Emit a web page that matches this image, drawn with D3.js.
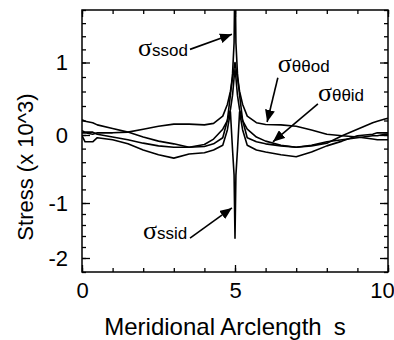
<!DOCTYPE html>
<html>
<head>
<meta charset="utf-8">
<script src="https://cdn.jsdelivr.net/npm/d3@7.9.0/dist/d3.min.js"></script>
<style>
  html, body { margin: 0; padding: 0; background: #fff; }
  svg { display: block; font-family: "Liberation Sans", Arial, sans-serif; }
</style>
</head>
<body>
<div id="chart"></div>
<script>
// arclength samples (denser around the junction at s = 5)
const arcS = [0, 0.1, 0.35, 0.5, 1, 1.5, 2, 2.5, 3, 3.5, 4, 4.3, 4.6, 4.75, 4.85, 4.92, 4.97, 5,
  5.03, 5.08, 5.15, 5.25, 5.4, 5.7, 6, 6.5, 7, 7.5, 8, 8.5, 9, 9.5, 9.65, 9.9, 10];

// stress (x 10^3)
const sigmaThetaId = [0.21, 0.19, 0.17, 0.14, 0.09, 0.04, -0.03, -0.09, -0.13, -0.18, -0.14, -0.06, 0.08, 0.2, 0.35, 0.55, 0.79, 0.9,
  0.79, 0.55, 0.35, 0.2, 0.08, -0.03, -0.09, -0.15, -0.18, -0.16, -0.12, -0.01, 0.08, 0.17, 0.19, 0.22, 0.23];
const sigmaThetaOd = [0.03, 0.03, 0.01, 0.03, 0.03, 0.04, 0.08, 0.12, 0.15, 0.15, 0.14, 0.16, 0.26, 0.42, 0.6, 0.78, 0.92, 1.0,
  0.92, 0.78, 0.6, 0.42, 0.26, 0.17, 0.145, 0.14, 0.12, 0.07, 0.01, -0.01, -0.03, -0.06, -0.07, -0.07, -0.07];
const sigmaSsId = [-0.01, -0.1, -0.1, -0.04, -0.07, -0.13, -0.22, -0.29, -0.34, -0.28, -0.26, -0.22, -0.15, 0.07, 0.32, -0.22, -0.59, -1.64,
  -0.59, -0.22, 0.32, 0.07, -0.15, -0.22, -0.25, -0.29, -0.32, -0.25, -0.16, -0.09, -0.01, 0.01, 0.03, 0.03, 0.03];
const sigmaSsOd = [0.06, 0.04, 0.04, 0.01, -0.03, -0.07, -0.12, -0.16, -0.18, -0.18, -0.17, -0.13, -0.04, 0.2, 0.55, 0.85, 1.3, 2.5,
  1.3, 0.85, 0.55, 0.2, -0.04, -0.1, -0.13, -0.16, -0.18, -0.15, -0.1, -0.07, -0.04, -0.01, -0.01, 0.01, 0.01];

const xMajor = [0, 5, 10];
const yMajor = [-2, -1, 0, 1];

// callouts: subscript, text position, arrow start and tip (data units)
const labelNames = ["ssod", "\u03b8\u03b8od", "\u03b8\u03b8id", "ssid"];
const labelAt = [[1.83, 1.1], [6.4, 0.87], [7.71, 0.47], [1.99, -1.65]];
const arrowFrom = [[3.53, 1.2], [6.4, 0.79], [7.71, 0.43], [3.53, -1.64]];
const arrowTo = [[4.9, 1.43], [6.05, 0.18], [6.24, -0.1], [4.9, -1.09]];

const W = 394, H = 340;
const box = {left: 82, right: 388, top: 10, bottom: 272};

const svg = d3.select("#chart").append("svg")
    .attr("width", W)
    .attr("height", H);

const x = d3.scaleLinear().domain([0, 10]).range([box.left, box.right]);
// the scanned axis is slightly uneven, so follow its tick positions
const y = d3.scaleLinear()
    .domain([-2.2, -2, -1, 0, 1, 1.8])
    .range([box.bottom, 258, 203, 135, 62.5, box.top]);

const yMinor = d3.range(-22, 19, 2).map(d => d / 10);
const xMinor = d3.range(0, 11);

const defs = svg.append("defs");
defs.append("clipPath").attr("id", "plot")
  .append("rect")
    .attr("x", box.left).attr("y", box.top)
    .attr("width", box.right - box.left).attr("height", box.bottom - box.top);

defs.append("marker")
    .attr("id", "head")
    .attr("markerUnits", "userSpaceOnUse")
    .attr("viewBox", "0 0 12 10")
    .attr("refX", 12).attr("refY", 5)
    .attr("markerWidth", 12).attr("markerHeight", 10)
    .attr("orient", "auto")
  .append("path")
    .attr("d", "M0,0 L12,5 L0,10 Z")
    .attr("fill", "#000");

// curves
const line = d3.line()
    .x((d, i) => x(arcS[i]))
    .y(d => y(d));

svg.append("g")
    .attr("clip-path", "url(#plot)")
  .selectAll("path")
  .data([sigmaThetaId, sigmaThetaOd, sigmaSsId, sigmaSsOd])
  .join("path")
    .attr("d", line)
    .attr("fill", "none")
    .attr("stroke", "#000")
    .attr("stroke-width", 1.6)
    .attr("stroke-linejoin", "round");

// frame
svg.append("rect")
    .attr("x", box.left).attr("y", box.top)
    .attr("width", box.right - box.left).attr("height", box.bottom - box.top)
    .attr("fill", "none")
    .attr("stroke", "#000")
    .attr("stroke-width", 1.5);

function styleAxis(g) {
  g.select(".domain").remove();
  g.selectAll(".tick line").attr("stroke", "#000").attr("stroke-width", 1.3);
  g.selectAll(".tick text")
    .attr("font-size", 22)
    .attr("fill", "#000")
    .attr("font-family", "Liberation Sans, Arial, sans-serif");
}

// minor ticks on all sides
svg.append("g").attr("transform", `translate(${box.left},0)`)
  .call(d3.axisLeft(y).tickValues(yMinor).tickSize(-4).tickFormat("")).call(styleAxis);
svg.append("g").attr("transform", `translate(${box.right},0)`)
  .call(d3.axisRight(y).tickValues(yMinor).tickSize(-4).tickFormat("")).call(styleAxis);
svg.append("g").attr("transform", `translate(0,${box.bottom})`)
  .call(d3.axisBottom(x).tickValues(xMinor).tickSize(-4).tickFormat("")).call(styleAxis);
svg.append("g").attr("transform", `translate(0,${box.top})`)
  .call(d3.axisTop(x).tickValues(xMinor).tickSize(-4).tickFormat("")).call(styleAxis);

// major ticks with labels
svg.append("g").attr("transform", `translate(${box.left},0)`)
  .call(d3.axisLeft(y).tickValues(yMajor).tickSize(-8).tickPadding(14).tickFormat(d => String(d)))
  .call(styleAxis);
svg.append("g").attr("transform", `translate(0,${box.bottom})`)
  .call(d3.axisBottom(x).tickValues(xMajor).tickSize(-7).tickPadding(10).tickFormat(d => String(d)))
  .call(styleAxis)
  .selectAll(".tick text")
    .filter(d => d === 10)
    .attr("dx", -6);
svg.append("g").attr("transform", `translate(${box.right},0)`)
  .call(d3.axisRight(y).tickValues(yMajor).tickSize(-8).tickFormat("")).call(styleAxis);
svg.append("g").attr("transform", `translate(0,${box.top})`)
  .call(d3.axisTop(x).tickValues(xMajor).tickSize(-7).tickFormat("")).call(styleAxis);

// axis titles
const xt = svg.append("text")
    .attr("x", 225)
    .attr("y", 335)
    .attr("text-anchor", "middle")
    .attr("font-size", 24);
xt.append("tspan").text("Meridional Arclength");
xt.append("tspan").attr("dx", 12).text("s");

svg.append("text")
    .attr("transform", "translate(33,167) rotate(-90)")
    .attr("text-anchor", "middle")
    .attr("font-size", 22)
    .text("Stress  (x 10^3)");

// callouts
const notes = svg.append("g");
labelNames.forEach((name, i) => {
  notes.append("line")
      .attr("x1", x(arrowFrom[i][0])).attr("y1", y(arrowFrom[i][1]))
      .attr("x2", x(arrowTo[i][0])).attr("y2", y(arrowTo[i][1]))
      .attr("stroke", "#000")
      .attr("stroke-width", 1.6)
      .attr("marker-end", "url(#head)");
  const t = notes.append("text")
      .attr("x", x(labelAt[i][0]))
      .attr("y", y(labelAt[i][1]));
  t.append("tspan")
      .attr("font-family", "Liberation Serif, Times New Roman, serif")
      .attr("font-size", 26)
      .text("\u03c3");
  t.append("tspan")
      .attr("font-size", 17)
      .text(name);
});
</script>
</body>
</html>
